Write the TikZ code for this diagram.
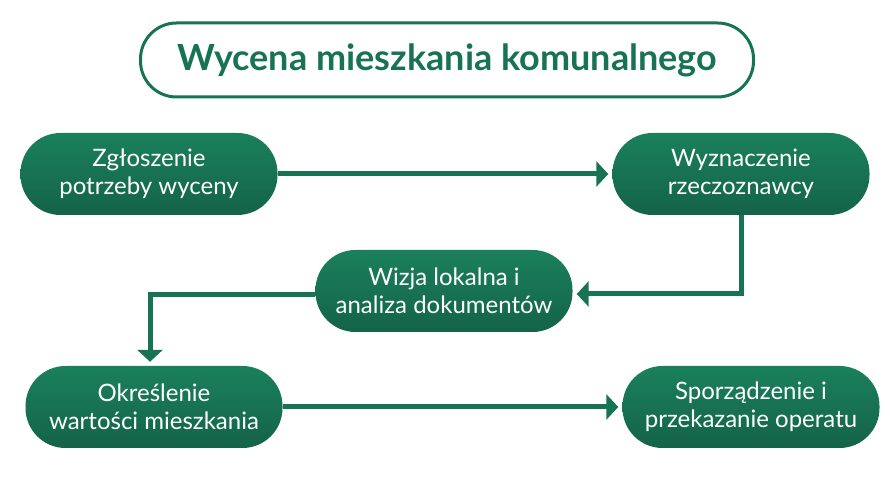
\documentclass[tikz,border=0pt]{standalone}
\usepackage{fontspec}
\setmainfont{Lato}
\usepackage{tikz}
\usetikzlibrary{arrows.meta, calc}

\definecolor{pinetop}{RGB}{26,128,92}
\definecolor{pinebot}{RGB}{20,99,73}
\definecolor{pineline}{RGB}{24,115,84}

\begin{document}
\begin{tikzpicture}[x=1pt, y=1pt,
        stepbox/.style={rounded corners=40pt, top color=pinetop, bottom color=pinebot,
          minimum width=257pt, minimum height=82pt, align=center, text=white,
          font=\fontsize{24}{28}\selectfont, inner sep=2pt},
        titlebox/.style={draw=pineline, line width=3pt, rounded corners=36pt, fill=white,
          minimum width=613pt, minimum height=74pt, text=pineline,
          font=\fontsize{36}{40}\selectfont\bfseries},
        flow/.style={draw=pineline, line width=5pt, -{Triangle[length=12pt, width=25pt]}, shorten >=4pt}
      ]
        \useasboundingbox (0,0) rectangle (890,500);
        % title
        \node[titlebox] (title) at (447,440) {Wycena mieszkania komunalnego};
        % process steps
        \node[stepbox] (zgl) at (149,326) {Zgłoszenie\\potrzeby wyceny};
        \node[stepbox] (wyz) at (741,326) {Wyznaczenie\\rzeczoznawcy};
        \node[stepbox] (wiz) at (444,209) {Wizja lokalna i\\analiza dokumentów};
        \node[stepbox] (okr) at (154,93) {Określenie\\wartości mieszkania};
        \node[stepbox] (spo) at (751,93) {Sporządzenie i\\przekazanie operatu};
        % connectors
        \draw[flow] (zgl) -- (wyz);
        \draw[flow] (wyz.south) |- ($(wiz.east)+(0,-3)$);
        \draw[flow] ($(wiz.west)+(0,-4)$) -| ($(okr.north)+(-4,0)$);
        \draw[flow] (okr) -- (spo);
      \end{tikzpicture}
\end{document}
